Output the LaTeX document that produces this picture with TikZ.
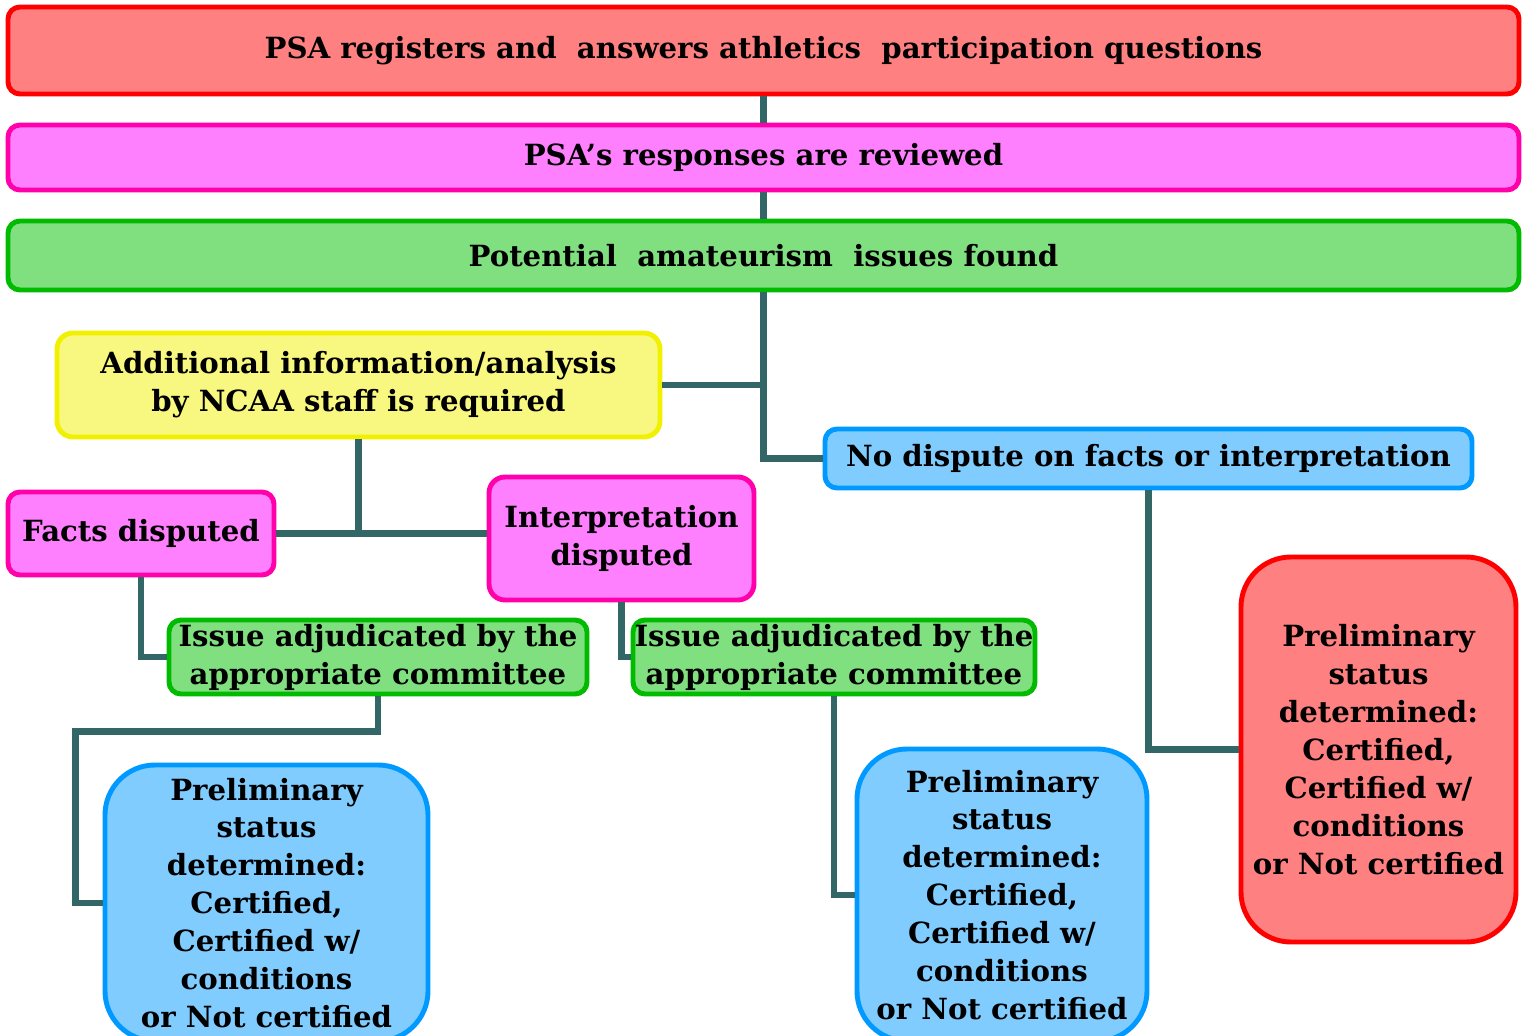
\documentclass[tikz,border=0pt]{standalone}
\usepackage{fontspec}
\setmainfont{DejaVu Serif}

\definecolor{redfill}{HTML}{FF8080}
\definecolor{redline}{HTML}{FF0000}
\definecolor{pinkfill}{HTML}{FF80FF}
\definecolor{pinkline}{HTML}{FF00AA}
\definecolor{greenfill}{HTML}{80E080}
\definecolor{greenline}{HTML}{00BB00}
\definecolor{yellowfill}{HTML}{F8F880}
\definecolor{yellowline}{HTML}{F0F000}
\definecolor{bluefill}{HTML}{80CCFF}
\definecolor{blueline}{HTML}{0099FF}
\definecolor{linkcol}{HTML}{336666}

\begin{document}
\begin{tikzpicture}[
box/.style={draw, line width=1.4pt, rounded corners=0.12cm, align=center, inner sep=0pt,
  font=\bfseries\fontsize{8.3}{10.8}\selectfont},
redbox/.style={box, fill=redfill, draw=redline},
pinkbox/.style={box, fill=pinkfill, draw=pinkline},
greenbox/.style={box, fill=greenfill, draw=greenline},
yellowbox/.style={box, fill=yellowfill, draw=yellowline},
bluebox/.style={box, fill=bluefill, draw=blueline},
link/.style={draw=linkcol, line width=1.9pt},
]
\useasboundingbox (0,0) rectangle (15.23,10.35);

%Top
\node[redbox,minimum width=15.11cm,minimum height=0.87cm,
] (register) at (7.635,9.845){PSA registers and~ answers athletics~ participation questions};

%Review
\node[pinkbox,minimum width=15.11cm,minimum height=0.65cm,
] (review) at (7.635,8.775){PSA’s responses are reviewed};

%Issues
\node[greenbox,minimum width=15.11cm,minimum height=0.69cm,
] (issues) at (7.635,7.795){Potential~ amateurism~ issues found};

%Additional info
\node[yellowbox,minimum width=6.03cm,minimum height=1.04cm,rounded corners=0.16cm,
] (analysis) at (3.585,6.50){Additional information/analysis\\by NCAA staff is required};

%No dispute
\node[bluebox,minimum width=6.47cm,minimum height=0.59cm,
] (nodispute) at (11.485,5.765){No dispute on facts or interpretation};

%Facts disputed
\node[pinkbox,minimum width=2.66cm,minimum height=0.83cm,
] (facts) at (1.41,5.015){Facts disputed};

%Interpretation disputed
\node[pinkbox,minimum width=2.65cm,minimum height=1.23cm,rounded corners=0.16cm,
] (interp) at (6.215,4.965){Interpretation\\disputed};

%Adjudicated Left
\node[greenbox,minimum width=4.18cm,minimum height=0.74cm,
] (adjleft) at (3.78,3.78){Issue adjudicated by the\\appropriate committee};

%Adjudicated Right
\node[greenbox,minimum width=4.02cm,minimum height=0.74cm,
] (adjright) at (8.34,3.78){Issue adjudicated by the\\appropriate committee};

%Status Left
\node[bluebox,minimum width=3.23cm,minimum height=2.76cm,rounded corners=0.5cm,
] (statleft) at (2.665,1.32){Preliminary\\status\\determined:\\Certified,\\Certified w/\\conditions\\or Not certified};

%Status Middle
\node[bluebox,minimum width=2.90cm,minimum height=2.92cm,rounded corners=0.5cm,
] (statmid) at (10.02,1.40){Preliminary\\status\\determined:\\Certified,\\Certified w/\\conditions\\or Not certified};

%Status Right
\node[redbox,minimum width=2.75cm,minimum height=3.85cm,rounded corners=0.5cm,
] (statright) at (13.785,2.855){Preliminary\\status\\determined:\\Certified,\\Certified w/\\conditions\\or Not certified};

%Links
\draw[link] (register.south) -- (review.north);
\draw[link] (review.south) -- (issues.north);
\draw[link] (issues.south) |- (nodispute.west);
\draw[link] (issues.south |- analysis.east) -- (analysis.east);
\draw[link] (analysis.south) -- (analysis.south |- facts.east);
\draw[link] (facts.east) -- (facts.east -| interp.west);
\draw[link] (facts.south) |- (adjleft.west);
\draw[link] (interp.south) |- (adjright.west);
\draw[link] (adjleft.south) -- ++(0,-0.35) -| ([xshift=-0.27cm]statleft.west) -- (statleft.west);
\draw[link] (adjright.south) |- (statmid.west);
\draw[link] (nodispute.south) |- (statright.west);

\end{tikzpicture}
\end{document}
